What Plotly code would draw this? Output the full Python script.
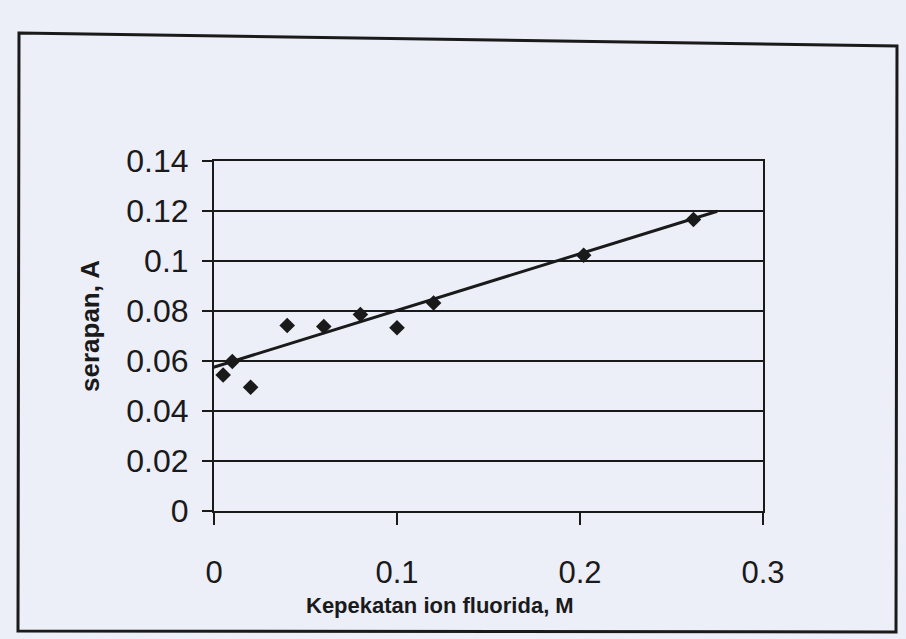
import plotly.graph_objects as go

# Data
conc = [0.005, 0.010, 0.020, 0.040, 0.060, 0.080, 0.100, 0.120, 0.202, 0.262]
absorb = [0.0544, 0.0598, 0.0495, 0.0742, 0.0738, 0.0786, 0.0733, 0.0832, 0.1023, 0.1166]
trend_x = [-0.006, 0.275]
trend_y = [0.0562, 0.1199]

x_ticks = [0, 0.1, 0.2, 0.3]
x_ticktext = ["0", "0.1", "0.2", "0.3"]
y_ticks = [0, 0.02, 0.04, 0.06, 0.08, 0.10, 0.12, 0.14]
y_ticktext = ["0", "0.02", "0.04", "0.06", "0.08", "0.1", "0.12", "0.14"]

x_title = "Kepekatan ion fluorida, M"
y_title = "serapan, A"

W, H = 906, 639
L, R, T, B = 214, 143, 161, 128
pw, ph = W - L - R, H - T - B

def px(x):
    return (x - L) / pw

def py(y):
    return (H - B - y) / ph

bg = "#eceef8"
ink = "#1a1a1a"
font = "Liberation Sans, Arial, sans-serif"

fig = go.Figure()
fig.add_trace(go.Scatter(x=trend_x, y=trend_y, mode="lines",
                         line=dict(color=ink, width=3), showlegend=False,
                         hoverinfo="skip"))
fig.add_trace(go.Scatter(x=conc, y=absorb, mode="markers",
                         marker=dict(symbol="diamond", size=12, color=ink,
                                     line=dict(width=0)),
                         showlegend=False))

# outer chart frame (slightly skewed like the scan)
frame = (f"M {px(19)},{py(33)} L {px(897)},{py(46)} "
         f"L {px(896)},{py(632)} L {px(18)},{py(631)} Z")
fig.add_shape(type="path", path=frame, xref="paper", yref="paper",
              line=dict(color=ink, width=3), fillcolor="rgba(0,0,0,0)",
              layer="below")

fig.add_annotation(text=f"<b>{x_title}</b>", xref="paper", yref="paper",
                   x=px(440), y=py(605), xanchor="center", yanchor="middle",
                   showarrow=False, font=dict(size=22, color=ink))
fig.add_annotation(text=f"<b>{y_title}</b>", xref="paper", yref="paper",
                   x=px(90), y=py(326), xanchor="center", yanchor="middle",
                   textangle=-90, showarrow=False, font=dict(size=26, color=ink))

fig.update_layout(
    width=W, height=H,
    margin=dict(l=L, r=R, t=T, b=B),
    paper_bgcolor=bg, plot_bgcolor=bg,
    font=dict(family=font, color=ink),
    xaxis=dict(range=[0, 0.3], tickvals=x_ticks, ticktext=x_ticktext,
               ticks="outside", ticklen=12, tickwidth=2, tickcolor=ink,
               showline=True, linewidth=2, linecolor=ink, mirror=True,
               showgrid=False, zeroline=False,
               tickfont=dict(size=31, color=ink), ticklabelstandoff=21),
    yaxis=dict(range=[0, 0.14], tickvals=y_ticks, ticktext=y_ticktext,
               ticks="outside", ticklen=10, tickwidth=2, tickcolor=ink,
               showline=True, linewidth=2, linecolor=ink, mirror=True,
               showgrid=True, gridcolor=ink, gridwidth=2, zeroline=False,
               tickfont=dict(size=32, color=ink), ticklabelstandoff=7),
)

fig.write_html("out.html")
